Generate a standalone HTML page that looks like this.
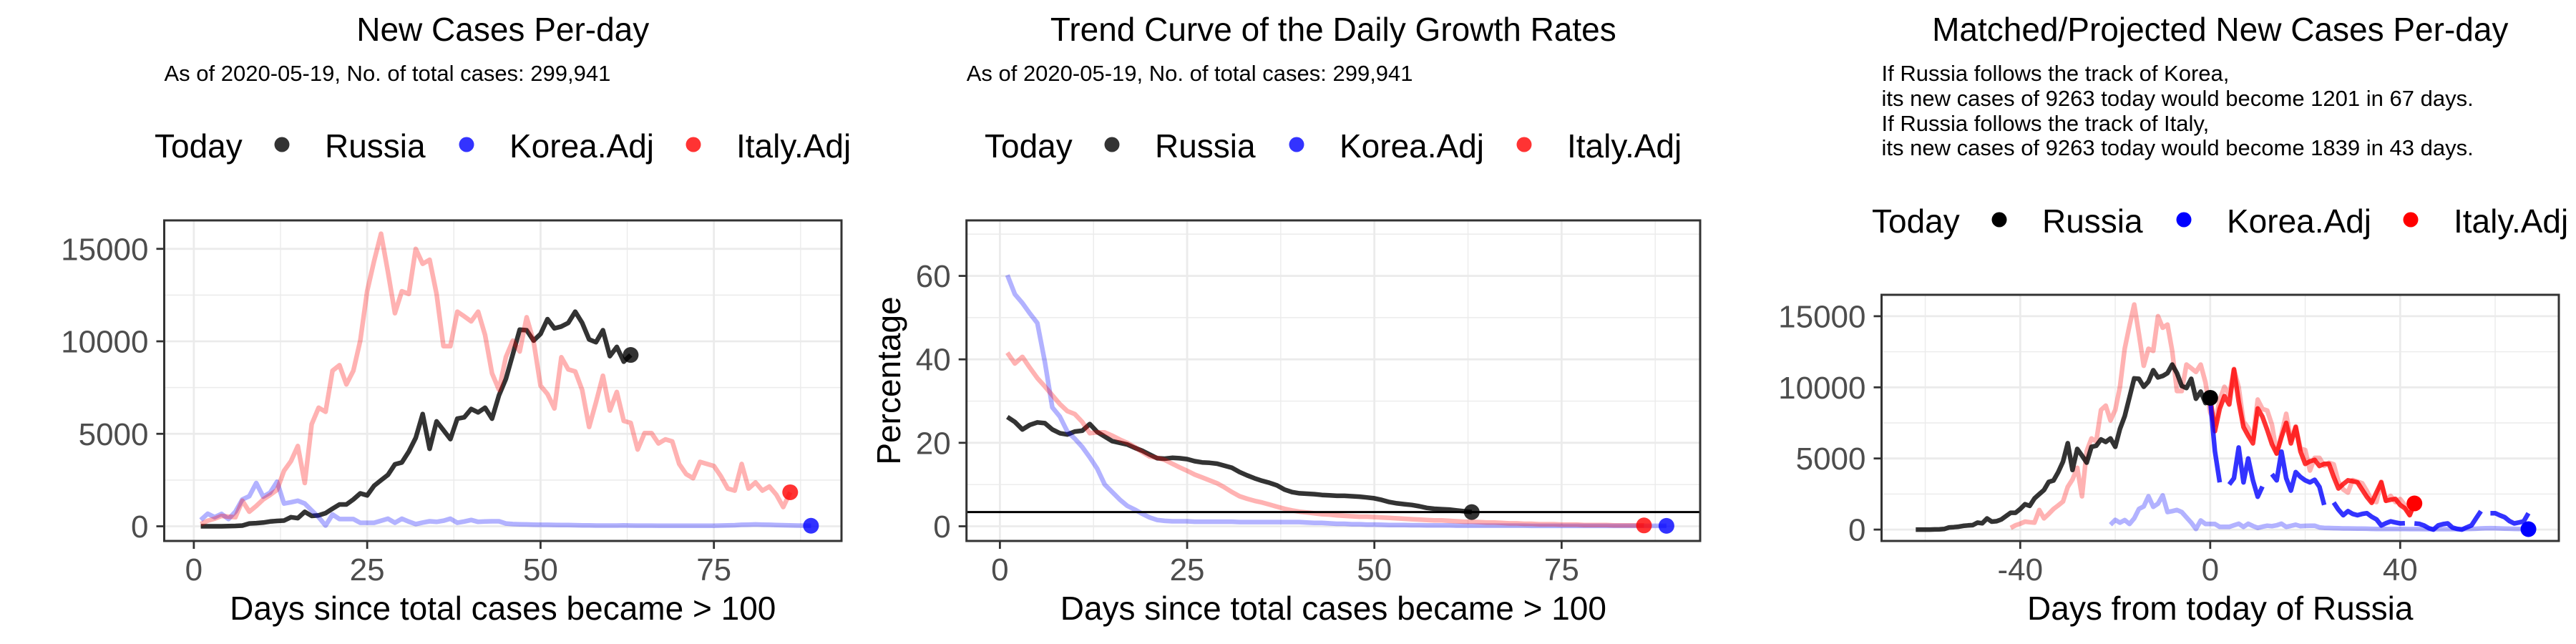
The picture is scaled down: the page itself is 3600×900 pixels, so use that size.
<!DOCTYPE html>
<html><head><meta charset="utf-8"><title>Russia COVID-19 charts</title>
<style>
html,body{margin:0;padding:0;background:#fff;}
svg{display:block;font-family:"Liberation Sans",Arial,sans-serif;}
</style></head>
<body>
<svg id="chart" width="3600" height="900" viewBox="0 0 3600 900" xmlns="http://www.w3.org/2000/svg"></svg>
<script>
// ---- Panel 1: new cases per day (day since >100 cases) ----
const russiaCases = [0,0,0,0,10,20,40,150,170,200,260,290,310,490,440,780,560,590,710,950,1180,1180,1450,1780,1670,2190,2490,2780,3350,3450,4040,4780,6070,4190,5670,5200,4710,5820,5890,6340,6160,6410,5820,7080,7970,9300,10630,10600,10040,10400,11200,10700,10800,11000,11600,11000,10100,9950,10600,9200,9700,8900,9263];
const italyCases = [120,300,410,560,520,490,1380,790,1100,1450,1700,1970,3000,3520,4340,2340,5520,6410,6190,8410,8710,7670,8410,10040,12710,14340,15820,13740,11520,12710,12560,15000,14190,14410,12560,9740,9740,11600,11350,11080,11600,10340,8270,7380,9150,10040,9450,11300,10000,7600,7150,6370,9140,8480,8370,7370,5370,6700,8140,6260,7260,5700,5590,4150,5040,5040,4480,4700,4590,3370,2820,2600,3480,3370,3260,2710,2040,1930,3370,2040,2370,1930,2150,1710,1040,1839];
const koreaCases = [340,680,490,670,390,790,1450,1630,2340,1600,1820,2410,1230,1300,1380,1230,860,490,40,640,390,390,390,190,190,190,300,410,190,410,250,120,200,270,240,300,410,190,260,340,240,260,270,270,150,120,110,100,90,80,80,75,70,65,60,50,45,40,40,40,40,45,40,35,35,35,30,30,30,30,30,30,30,30,30,40,50,60,80,90,100,90,80,70,60,50,40,35,30];
// ---- Panel 2: growth-rate trend (%) ----
const russiaGrowth = [26.2,25,23.2,24.3,24.9,24.7,23.2,22.3,22,22.7,22.9,24.5,22.6,21.5,20.4,20,19.6,18.8,18.1,17.2,16.3,16.2,16.4,16.3,16.1,15.6,15.3,15.2,15,14.5,14,13,12.2,11.5,10.9,10.4,9.8,8.8,8.2,7.9,7.8,7.7,7.5,7.4,7.3,7.3,7.2,7.1,6.9,6.7,6.3,5.8,5.5,5.3,5.1,4.8,4.4,4.2,4.1,4,3.8,3.6,3.4];
const italyGrowth = [41.6,39,40.6,38,35.5,33.5,31.4,29.3,27.6,26.9,25,22.3,22.5,22.5,21.7,20.8,20,19,17.8,16.7,16.4,15.9,15,14.1,13.3,12.4,11.7,11,10.3,9.3,8.2,7.2,6.6,6.1,5.7,5.2,4.7,4.2,3.8,3.5,3.3,3.1,2.9,2.8,2.6,2.5,2.4,2.3,2.3,2.2,2.1,2,1.9,1.8,1.7,1.6,1.5,1.4,1.4,1.3,1.2,1.1,1.1,1,0.9,0.9,0.8,0.7,0.7,0.6,0.6,0.5,0.5,0.5,0.4,0.4,0.4,0.3,0.3,0.3,0.3,0.2,0.2,0.2,0.2,0.2];
const koreaGrowth = [60.2,55.6,53.5,51,48.7,39.4,28.5,26.3,22.7,21,19,16.5,13.8,10,8.2,6.4,4.9,4,3,2.1,1.5,1.3,1.2,1.2,1.2,1.1,1.1,1.1,1.1,1.1,1.1,1.0,1.0,1.0,1.0,1.0,1.0,1.0,1.0,1.0,0.9,0.8,0.8,0.7,0.6,0.6,0.5,0.5,0.4,0.4,0.35,0.3,0.3,0.3,0.25,0.25,0.2,0.2,0.2,0.2,0.15,0.15,0.15,0.15,0.15,0.15,0.15,0.15,0.15,0.15,0.1,0.1,0.1,0.1,0.1,0.1,0.1,0.1,0.1,0.1,0.1,0.1,0.1,0.1,0.1,0.1,0.1,0.1,0.1];
// ---- Panel 3: matched / projected (days from today) ----
const italyShift = 43;
const koreaShift = 22;
const russiaShift = 63;
const italyProjected = [9263,6920,8500,9380,8800,11250,9000,7210,6600,6060,8510,7930,7000,6000,5340,6500,7500,6060,7210,5500,4620,4800,4900,4470,4620,4620,3700,2890,3200,3460,3400,3320,2800,2300,1880,2600,3320,2020,2100,2160,1730,1500,1010,1839];
const koreaProjected = [9090,5500,3320,null,3170,3610,5770,3320,5000,3460,2310,3030,null,3900,3460,5480,3610,2740,4040,3700,3460,3320,3500,3000,1730,null,1900,1400,1010,1300,1100,1010,1100,1150,900,720,290,450,580,500,430,450,null,430,400,290,100,0,290,380,430,140,50,0,150,290,800,1300,null,1150,1150,1000,870,600,430,500,580,1150];
const caseTicks = [0,5000,10000,15000];
const caseMinor = [2500,7500,12500];
const dayTicks = [0,25,50,75];
const dayMinor = [12.5,37.5,62.5,87.5];
const pctTicks = [0,20,40,60];
const pctMinor = [10,30,50,70];
const relTicks = [-40,0,40];
const relMinor = [-60,-20,20,60];

const NS = "http://www.w3.org/2000/svg";
const svg = document.getElementById('chart');
function mk(tag, attrs, parent){
  const e = document.createElementNS(NS, tag);
  for (const k in attrs) e.setAttribute(k, attrs[k]);
  (parent||svg).appendChild(e);
  return e;
}
function txt(s, attrs, parent){ const e = mk('text', attrs, parent); e.textContent = s; return e; }

function makePanel(p){
  const g = mk('g', {});
  
  
  const sx = x => p.L + (x - p.xmin)/(p.xmax - p.xmin)*(p.R - p.L);
  const sy = y => p.B - (y - p.ymin)/(p.ymax - p.ymin)*(p.B - p.T);
  p.xMinor.forEach(v => { const l = mk('line',{x1:sx(v),x2:sx(v),y1:p.T,y2:p.B,stroke:'#ebebeb','stroke-width':1.4},g);
      });
  p.yMinor.forEach(v => { const l = mk('line',{x1:p.L,x2:p.R,y1:sy(v),y2:sy(v),stroke:'#ebebeb','stroke-width':1.4},g);
      });
  p.xTicks.forEach(v => { const l = mk('line',{x1:sx(v),x2:sx(v),y1:p.T,y2:p.B,stroke:'#ebebeb','stroke-width':2.8},g);
      });
  p.yTicks.forEach(v => { const l = mk('line',{x1:p.L,x2:p.R,y1:sy(v),y2:sy(v),stroke:'#ebebeb','stroke-width':2.8},g);
      });
  p.series.forEach(s => {
    let d = '', pen = false;
    s.y.forEach((v,i) => {
      if (v === null || v === undefined) { pen = false; return; }
      const x = s.x0 + i;
      d += (pen ? 'L' : 'M') + sx(x).toFixed(1) + ' ' + sy(v).toFixed(1) + ' ';
      pen = true;
    });
    const path = mk('path',{d:d,fill:'none',stroke:s.color,'stroke-opacity':s.op,'stroke-width':s.w||6.5,'stroke-linejoin':'round','stroke-linecap':'butt'},g);
    
    
  });
  if (p.hline !== undefined){
    const h = mk('line',{x1:p.L,x2:p.R,y1:sy(p.hline),y2:sy(p.hline),stroke:'#000','stroke-width':3},g);
    
    
  }
  p.points.forEach(pt => {
    const c = mk('circle',{cx:sx(pt.x),cy:sy(pt.y),r:11,fill:pt.color,'fill-opacity':pt.op},g);
    
    
  });
  const border = mk('rect',{x:p.L,y:p.T,width:p.R-p.L,height:p.B-p.T,fill:'none',stroke:'#333','stroke-width':3},g);
  
  
  p.xTicks.forEach(v => {
    mk('line',{x1:sx(v),x2:sx(v),y1:p.B,y2:p.B+11,stroke:'#333','stroke-width':2.8},g);
    const t = txt(String(v),{x:sx(v),y:811,'font-size':44,fill:'#4d4d4d','text-anchor':'middle'},g);
    
    
  });
  p.yTicks.forEach(v => {
    mk('line',{x1:p.L-11,x2:p.L,y1:sy(v),y2:sy(v),stroke:'#333','stroke-width':2.8},g);
    const t = txt(String(v),{x:p.L-22,y:sy(v)+15.5,'font-size':44,fill:'#4d4d4d','text-anchor':'end'},g);
    
    
  });
  const xt = txt(p.xTitle,{x:(p.L+p.R)/2,y:866,'font-size':46,fill:'#000','text-anchor':'middle'},g);
  
  
  if (p.yTitle){
    const yt = txt(p.yTitle,{x:0,y:0,'font-size':46,fill:'#000','text-anchor':'middle',transform:'translate(1258,'+((p.T+p.B)/2)+') rotate(-90)'},g);
    
    
  }
  const tt = txt(p.title,{x:(p.L+p.R)/2,y:57,'font-size':46,fill:'#000','text-anchor':'middle'},g);
  
  
  p.sub.forEach((s,i) => {
    const st = txt(s,{x:p.L,y:p.subY[i],'font-size':31,fill:'#000'},g);
    
    
  });
  const lg = mk('g',{},g);
  
  
  const lt = txt('Today',{x:p.leg.x0,y:p.leg.base,'font-size':46,fill:'#000'},lg);
  
  
  const names = ['Russia','Korea.Adj','Italy.Adj'];
  const cols = ['#000','#0000ff','#ff0000'];
  names.forEach((n,i) => {
    const dc = mk('circle',{cx:p.leg.dots[i],cy:p.leg.base-18,r:10.5,fill:cols[i],'fill-opacity':p.leg.op},lg);
    
    
    const lb = txt(n,{x:p.leg.dots[i]+60,y:p.leg.base,'font-size':46,fill:'#000'},lg);
    
    
  });
}

makePanel({
  name:'new-cases-panel', L:229.5,R:1176,T:308,B:756, xmin:-4.27,xmax:93.4, ymin:-793,ymax:16538,
  xTicks:dayTicks, xMinor:dayMinor, yTicks:caseTicks, yMinor:caseMinor,
  series:[
    {name:'russia-line', y:russiaCases, x0:1, color:'#000', op:0.8},
    {name:'korea-line', y:koreaCases, x0:1, color:'#0000ff', op:0.3},
    {name:'italy-line', y:italyCases, x0:1, color:'#ff0000', op:0.3}
  ],
  points:[
    {name:'russia-today-point', x:russiaCases.length, y:russiaCases[russiaCases.length-1], color:'#000', op:0.8},
    {name:'italy-today-point', x:italyCases.length, y:italyCases[italyCases.length-1], color:'#ff0000', op:0.8},
    {name:'korea-today-point', x:koreaCases.length, y:koreaCases[koreaCases.length-1], color:'#0000ff', op:0.8}
  ],
  xTitle:'Days since total cases became > 100', title:'New Cases Per-day',
  sub:['As of 2020-05-19, No. of total cases: 299,941'], subY:[113],
  leg:{x0:216, base:220, dots:[394,652,969], op:0.8}
});

makePanel({
  name:'growth-rate-panel', L:1350.7,R:2376,T:308,B:756, xmin:-4.46,xmax:93.5, ymin:-3.52,ymax:73.3,
  xTicks:dayTicks, xMinor:dayMinor, yTicks:pctTicks, yMinor:pctMinor,
  series:[
    {name:'russia-growth-line', y:russiaGrowth, x0:1, color:'#000', op:0.8},
    {name:'korea-growth-line', y:koreaGrowth, x0:1, color:'#0000ff', op:0.3},
    {name:'italy-growth-line', y:italyGrowth, x0:1, color:'#ff0000', op:0.3}
  ],
  hline:3.4,
  points:[
    {name:'russia-today-point', x:russiaGrowth.length, y:russiaGrowth[russiaGrowth.length-1], color:'#000', op:0.8},
    {name:'italy-today-point', x:italyGrowth.length, y:italyGrowth[italyGrowth.length-1], color:'#ff0000', op:0.8},
    {name:'korea-today-point', x:koreaGrowth.length, y:koreaGrowth[koreaGrowth.length-1], color:'#0000ff', op:0.8}
  ],
  xTitle:'Days since total cases became > 100', yTitle:'Percentage', title:'Trend Curve of the Daily Growth Rates',
  sub:['As of 2020-05-19, No. of total cases: 299,941'], subY:[113],
  leg:{x0:1376, base:220, dots:[1554,1812,2130], op:0.8}
});

makePanel({
  name:'projected-cases-panel', L:2629.5,R:3576,T:412,B:756, xmin:-69.2,xmax:73.4, ymin:-800,ymax:16504,
  xTicks:relTicks, xMinor:relMinor, yTicks:caseTicks, yMinor:caseMinor,
  series:[
    {name:'italy-matched-line', y:italyCases, x0:1-italyShift, color:'#ff0000', op:0.3},
    {name:'korea-matched-line', y:koreaCases, x0:1-koreaShift, color:'#0000ff', op:0.3},
    {name:'russia-line', y:russiaCases, x0:1-russiaShift, color:'#000', op:0.8},
    {name:'italy-projected-line', y:italyProjected, x0:0, color:'#ff0000', op:0.8},
    {name:'korea-projected-line', y:koreaProjected, x0:0, color:'#0000ff', op:0.8}
  ],
  points:[
    {name:'russia-today-point', x:0, y:russiaCases[russiaCases.length-1], color:'#000', op:1},
    {name:'italy-projected-point', x:italyProjected.length-1, y:italyProjected[italyProjected.length-1], color:'#ff0000', op:1},
    {name:'korea-projected-point', x:koreaCases.length-koreaShift, y:koreaCases[koreaCases.length-1], color:'#0000ff', op:1}
  ],
  xTitle:'Days from today of Russia', title:'Matched/Projected New Cases Per-day',
  sub:['If Russia follows the track of Korea,','its new cases of 9263 today would become 1201 in 67 days.','If Russia follows the track of Italy,','its new cases of 9263 today would become 1839 in 43 days.'],
  subY:[113,148,183,217],
  leg:{x0:2616, base:325, dots:[2794,3052,3369], op:1}
});
</script>
</body></html>
